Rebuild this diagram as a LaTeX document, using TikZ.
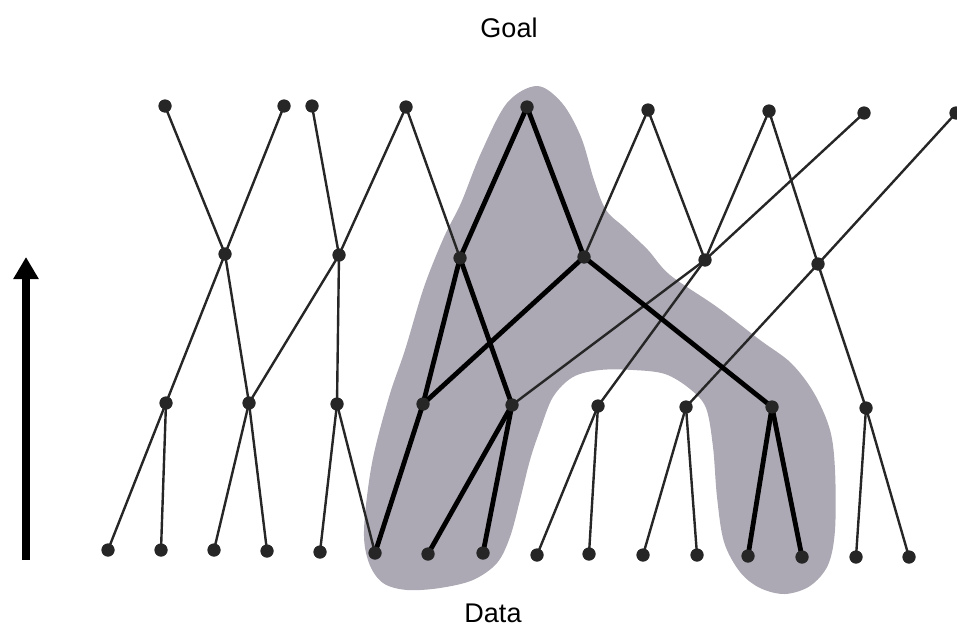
\documentclass[tikz,border=0pt]{standalone}
\usepackage{fontspec}
\setmainfont{Liberation Sans}
\usepackage{xcolor}
\usepackage{tikz}
\usetikzlibrary{arrows.meta}
\definecolor{blobgray}{RGB}{172,169,180}

\begin{document}
\begin{tikzpicture}[
    x=1pt, y=-1pt,
    dot/.style={circle, fill=black!85, inner sep=0pt, minimum size=13pt},
    link/.style={line width=2.4pt, black!85},
    strong/.style={line width=4.8pt, black},
    txt/.style={font=\fontsize{27}{32}\selectfont, inner sep=0pt}
  ]
  \useasboundingbox (0,0) rectangle (957,626);

  \fill[blobgray] plot[smooth cycle, tension=0.55] coordinates {
    (537,86) (562,103) (581,137) (594,180) (606,210) (625,228) (648,250)
    (670,275) (717,307) (760,340) (791,363) (814,393) (830,430) (835,470)
    (835,530) (828,565) (810,586) (785,594) (760,588) (740,572) (724,542)
    (717,497) (713,447) (706,408) (690,389) (665,374) (633,370) (600,370)
    (573,377) (553,397) (540,430) (530,460) (520,500) (510,537) (497,563)
    (473,580) (440,588) (407,590) (383,583) (369,563) (364,530) (372,463)
    (389,397) (405,350) (424,287) (444,237) (461,203) (481,153) (507,103)};

  \foreach \n/\x/\y in {g1/165/106, g2/284/106, g3/312/106, g4/406/107,
      g5/527/107, g6/648/110, g7/769/111, g8/864/113, g9/956/113,
      u1/225/254, u2/339/255, u3/460/258, u4/584/257, u5/705/260, u6/818/264,
      v1/166/403, v2/249/403, v3/337/404, v4/423/404, v5/512/405,
      v6/598/406, v7/686/407, v8/772/407, v9/866/408,
      d1/108/550, d2/161/550, d3/214/550, d4/267/551, d5/320/552,
      d6/375/553, d7/428/554, d8/483/553, d9/537/555, d10/589/554,
      d11/643/555, d12/697/555, d13/748/556, d14/802/557, d15/856/557,
      d16/909/557}
    \node[dot] (\n) at (\x,\y) {};

  \foreach \a/\b in {g1/u1, g2/u1, g3/u2, g4/u2, g4/u3, g6/u4, g6/u5,
      g7/u5, g7/u6, g8/u5, g9/u6, u1/v1, u1/v2, u2/v2, u2/v3, u5/v5,
      u5/v6, u6/v7, u6/v9, v1/d1, v1/d2, v2/d3, v2/d4, v3/d5, v3/d6,
      v6/d9, v6/d10, v7/d11, v7/d12, v9/d15, v9/d16}
    \draw[link] (\a.center) -- (\b.center);

  \foreach \a/\b in {g5/u3, g5/u4, u3/v4, u3/v5, u4/v4, u4/v8,
      v4/d6, v5/d7, v5/d8, v8/d13, v8/d14}
    \draw[strong] (\a.center) -- (\b.center);

  \foreach \n in {g1,g2,g3,g4,g5,g6,g7,g8,g9,u1,u2,u3,u4,u5,u6,
      v1,v2,v3,v4,v5,v6,v7,v8,v9,d1,d2,d3,d4,d5,d6,d7,d8,d9,d10,
      d11,d12,d13,d14,d15,d16}
    \node[dot] at (\n) {};

  \node[txt] (goal) at (509,28) {Goal};
  \node[txt] (data) at (493,613) {Data};

  \coordinate (upfoot) at (26,560);
  \coordinate (uptip) at (26,257);
  \draw[line width=8pt, -{Triangle[width=24pt, length=22pt]}] (upfoot) -- (uptip);
\end{tikzpicture}
\end{document}
